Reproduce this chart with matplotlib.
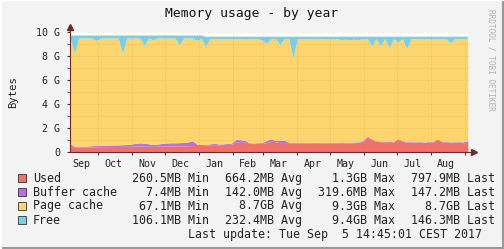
import numpy as np
import pandas as pd
import matplotlib
matplotlib.use("Agg")
import matplotlib.pyplot as plt
import matplotlib.dates as mdates

# -----------------------------------------------------------------------
# Data (GB, one sample every 4 days)
# -----------------------------------------------------------------------
dates = pd.date_range("2016-09-05", periods=92, freq="4D")

used = [0.55, 0.42, 0.42, 0.41, 0.42, 0.43, 0.44, 0.44, 0.45, 0.45,
        0.46, 0.46, 0.47, 0.47, 0.48, 0.50, 0.50, 0.49, 0.48, 0.47,
        0.48, 0.50, 0.50, 0.51, 0.50, 0.52, 0.51, 0.52, 0.53, 0.55,
        0.55, 0.56, 0.60, 0.62, 0.60, 0.62, 0.63, 0.65, 0.85, 0.80,
        0.82, 0.72, 0.70, 0.72, 0.70, 0.78, 0.90, 0.85, 0.78, 0.80,
        0.76, 0.74, 0.75, 0.74, 0.76, 0.75, 0.74, 0.75, 0.76, 0.75,
        0.74, 0.76, 0.78, 0.77, 0.76, 0.78, 0.80, 0.90, 1.25, 1.05,
        0.88, 0.86, 0.85, 0.86, 0.84, 1.05, 0.90, 0.80, 0.80, 0.79,
        0.80, 0.78, 0.80, 0.82, 1.05, 0.85, 0.80, 0.78, 0.79, 0.80,
        0.78, 0.80]

buffer_cache = [0.15, 0.06, 0.07, 0.08, 0.08, 0.09, 0.10, 0.10, 0.11, 0.12,
                0.12, 0.13, 0.14, 0.15, 0.18, 0.22, 0.26, 0.24, 0.20, 0.15,
                0.17, 0.22, 0.25, 0.26, 0.27, 0.26, 0.28, 0.32, 0.40, 0.10,
                0.08, 0.06, 0.08, 0.10, 0.07, 0.06, 0.08, 0.10, 0.20, 0.22,
                0.15, 0.06, 0.05, 0.06, 0.08, 0.20, 0.20, 0.10, 0.20, 0.18,
                0.06, 0.05, 0.05, 0.05, 0.05, 0.05, 0.05, 0.05, 0.05, 0.05,
                0.05, 0.05, 0.05, 0.05, 0.05, 0.05, 0.05, 0.06, 0.06, 0.06,
                0.06, 0.06, 0.06, 0.06, 0.06, 0.06, 0.06, 0.06, 0.06, 0.06,
                0.06, 0.06, 0.06, 0.06, 0.06, 0.06, 0.06, 0.06, 0.06, 0.06,
                0.06, 0.15]

page_cache = [8.80, 7.77, 9.01, 9.01, 9.00, 8.98, 8.76, 8.96, 8.94, 8.93,
              8.92, 8.91, 7.64, 8.88, 8.84, 8.78, 8.74, 8.12, 8.82, 8.73,
              8.85, 8.78, 8.75, 8.73, 8.73, 8.17, 8.71, 8.66, 8.57, 8.65,
              8.87, 8.18, 8.77, 8.73, 8.78, 8.77, 8.74, 8.70, 8.40, 8.43,
              8.48, 8.67, 8.70, 8.67, 8.52, 8.07, 8.35, 8.50, 7.97, 8.47,
              8.63, 7.06, 8.65, 8.66, 8.64, 8.65, 8.66, 8.65, 8.64, 8.65,
              8.66, 8.64, 8.52, 8.58, 8.54, 8.57, 8.50, 8.49, 8.14, 7.74,
              8.51, 7.93, 8.54, 7.78, 8.55, 8.04, 8.49, 7.74, 8.59, 8.60,
              8.59, 8.61, 8.59, 8.57, 8.34, 8.54, 8.59, 8.26, 8.60, 8.59,
              8.61, 8.55]

free = [0.25, 1.50, 0.25, 0.25, 0.25, 0.25, 0.45, 0.25, 0.25, 0.25,
        0.25, 0.25, 1.50, 0.25, 0.25, 0.25, 0.25, 0.90, 0.25, 0.40,
        0.25, 0.25, 0.25, 0.25, 0.25, 0.80, 0.25, 0.25, 0.25, 0.45,
        0.25, 0.85, 0.20, 0.20, 0.20, 0.20, 0.20, 0.20, 0.20, 0.20,
        0.20, 0.20, 0.20, 0.20, 0.35, 0.60, 0.20, 0.20, 0.70, 0.20,
        0.20, 1.80, 0.20, 0.20, 0.20, 0.20, 0.20, 0.20, 0.20, 0.20,
        0.20, 0.20, 0.30, 0.25, 0.30, 0.25, 0.30, 0.20, 0.20, 0.80,
        0.20, 0.80, 0.20, 0.95, 0.20, 0.50, 0.20, 1.05, 0.20, 0.20,
        0.20, 0.20, 0.20, 0.20, 0.20, 0.20, 0.20, 0.55, 0.20, 0.20,
        0.20, 0.15]

series_names = ["Used", "Buffer cache", "Page cache", "Free"]
series_colors = ["#F0716B", "#B870E0", "#FDD56F", "#80CDE0"]
min_vals = ["260.5MB", "7.4MB", "67.1MB", "106.1MB"]
avg_vals = ["664.2MB", "142.0MB", "8.7GB", "232.4MB"]
max_vals = ["1.3GB", "319.6MB", "9.3GB", "9.4GB"]
last_vals = ["797.9MB", "147.2MB", "8.7GB", "146.3MB"]

y_ticks = [0, 2, 4, 6, 8, 10]
y_ticklabels = ["0", "2 G", "4 G", "6 G", "8 G", "10 G"]

W, H = 504, 249
MONO = "DejaVu Sans Mono"
AXIS_COL = "#6b2a2a"


def fx(x):
    return x / W


def fy(y):
    return 1 - y / H


fig = plt.figure(figsize=(W / 100, H / 100), dpi=100)
fig.patch.set_facecolor("#F3F3F3")

ax = fig.add_axes([fx(70), fy(152), fx(469) - fx(70), fy(32) - fy(152)])
ax.set_facecolor("white")

# stacked areas
stack = np.cumsum(np.vstack([used, buffer_cache, page_cache, free]), axis=0)
lower = np.zeros(len(dates))
for top, col in zip(stack, series_colors):
    ax.fill_between(dates, lower, top, color=col, lw=0, zorder=1)
    lower = top

ax.set_xlim(pd.Timestamp("2016-09-05"), pd.Timestamp("2017-09-05"))
ax.set_ylim(0, 10)

ax.xaxis.set_major_locator(mdates.MonthLocator())
ax.xaxis.set_major_formatter(plt.NullFormatter())
ax.xaxis.set_minor_locator(mdates.MonthLocator(bymonthday=15))
ax.xaxis.set_minor_formatter(mdates.DateFormatter("%b"))
ax.tick_params(axis="x", which="major", length=2, color=AXIS_COL)
ax.tick_params(axis="x", which="minor", length=0, pad=5,
               labelsize=7.2, labelcolor="#222222")
for lab in ax.get_xticklabels(minor=True):
    lab.set_fontfamily(MONO)

ax.set_yticks(y_ticks)
ax.set_yticklabels(y_ticklabels, fontfamily=MONO, fontsize=7.2, color="#222222")
ax.set_yticks([1, 3, 5, 7, 9], minor=True)
ax.tick_params(axis="y", which="both", length=2, pad=5, color=AXIS_COL)

ax.set_axisbelow(False)
ax.grid(True, which="major", axis="both", color="#B08040", alpha=0.32,
        lw=0.6, ls=(0, (1, 2)))
ax.grid(True, which="minor", axis="y", color="#B08040", alpha=0.25,
        lw=0.6, ls=(0, (1, 2)))
ax.xaxis.grid(False, which="minor")

for s in ["top", "right"]:
    ax.spines[s].set_visible(False)
for s in ["left", "bottom"]:
    ax.spines[s].set_color(AXIS_COL)
    ax.spines[s].set_linewidth(0.8)

# arrows on the axes
ax.plot([0, 0], [1, 1.04], transform=ax.transAxes, color=AXIS_COL,
        lw=0.8, clip_on=False)
ax.plot([0], [1.045], marker="^", ms=4, color=AXIS_COL,
        transform=ax.transAxes, clip_on=False)
ax.plot([1, 1.01], [0, 0], transform=ax.transAxes, color=AXIS_COL,
        lw=0.8, clip_on=False)
ax.plot([1.013], [0], marker=">", ms=4, color=AXIS_COL,
        transform=ax.transAxes, clip_on=False)

# titles
fig.text(fx(252), fy(13), "Memory usage - by year", ha="center", va="center",
         fontfamily=MONO, fontsize=9.4, color="#111111")
fig.text(fx(13), fy(92), "Bytes", ha="center", va="center", rotation=90,
         fontfamily=MONO, fontsize=7.6, color="#222222")
fig.text(fx(491), fy(60), "RRDTOOL / TOBI OETIKER", ha="center", va="center",
         rotation=270, fontfamily=MONO, fontsize=5.6, color="#B0B0B0")

# legend
rows_y = [178, 192, 206, 220]
for i, name in enumerate(series_names):
    y = rows_y[i]
    fig.patches.append(plt.Rectangle((fx(18), fy(y + 4)), fx(8), 8 / H,
                                     transform=fig.transFigure,
                                     facecolor=series_colors[i],
                                     edgecolor="#333333", lw=0.6))
    kw = dict(va="center", fontfamily=MONO, fontsize=8.4, color="#222222")
    fig.text(fx(33), fy(y), name, ha="left", **kw)
    fig.text(fx(209), fy(y), f"{min_vals[i]} Min", ha="right", **kw)
    fig.text(fx(302), fy(y), f"{avg_vals[i]} Avg", ha="right", **kw)
    fig.text(fx(395), fy(y), f"{max_vals[i]} Max", ha="right", **kw)
    fig.text(fx(495), fy(y), f"{last_vals[i]} Last", ha="right", **kw)

fig.text(fx(482), fy(234), "Last update: Tue Sep  5 14:45:01 CEST 2017",
         ha="right", va="center", fontfamily=MONO, fontsize=8.4, color="#222222")

# 3d frame
fig.add_artist(plt.Line2D([0, 1], [fy(248), fy(248)], color="#9A9A9A", lw=1.5))
fig.add_artist(plt.Line2D([fx(503), fx(503)], [0, 1], color="#9A9A9A", lw=1.5))
fig.add_artist(plt.Line2D([0, 1], [fy(0.5), fy(0.5)], color="#FFFFFF", lw=1.5))
fig.add_artist(plt.Line2D([fx(0.5), fx(0.5)], [0, 1], color="#FFFFFF", lw=1.5))

fig.savefig("out.png", dpi=100, facecolor=fig.get_facecolor())
